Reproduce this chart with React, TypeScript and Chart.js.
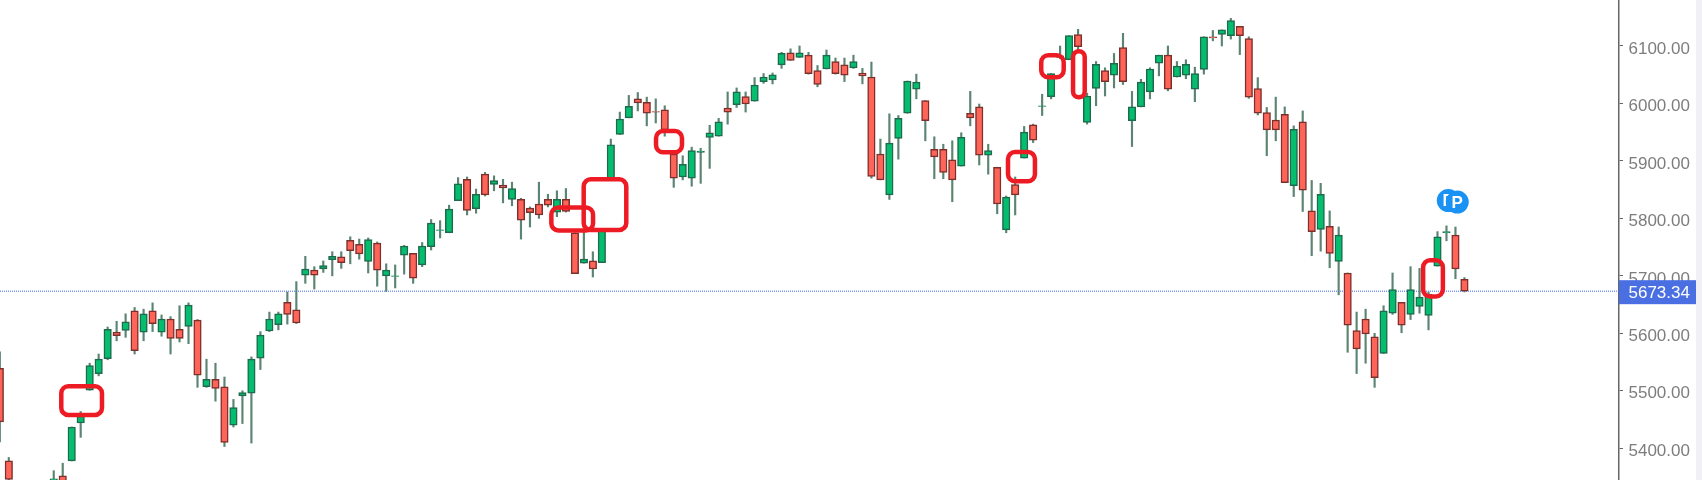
import React, { useEffect, useRef } from "react";
import { Chart, registerables } from "chart.js";

Chart.register(...registerables);

const opens = [
  5539, 5378, null, null, null, null, 5345, 5352, 5378, 5444,
  5501, 5530, 5556, 5602, 5605, 5639, 5602, 5639, 5602, 5625,
  5607, 5612, 5623, 5507, 5520, 5507, 5440, 5491, 5496, 5557,
  5604, 5615, 5654, 5641, 5701, 5710, 5712, 5728, 5733, 5762,
  5755, 5725, 5757, 5700, 5699, 5736, 5739, 5719, 5751, 5779,
  5775, 5831, 5868, 5817, 5877, 5859, 5858, 5833, 5833, 5818,
  5825, 5833, 5811, 5833, 5775, 5722, 5726, 5723, 5870, 5946,
  5975, 6008, 6002, 5986, 5989, 5912, 5872, 5870, 5915, 5941,
  5943, 5992, 5998, 6012, 6004, 6038, 6041, 6067, 6088, 6080,
  6084, 6057, 6060, 6073, 6067, 6062, 6053, 6046, 5912, 5841,
  5939, 5983, 6025, 6005, 5920, 5920, 5902, 5891, 5983, 5994,
  5910, 5889, 5780, 5859, 5905, 5963, 5995, 6012, 6080, 6076,
  6120, 5967, 6026, 6057, 6049, 6097, 5970, 5994, 6020, 6070,
  6084, 6046, 6049, 6025, 6059, 6116, 6120, 6118, 6134, 6113,
  6026, 5984, 5971, 5981, 5857, 5968, 5813, 5781, 5786, 5725,
  5705, 5605, 5625, 5594, 5565, 5635, 5654, 5633, 5647, 5631,
  5717, 5775, 5771, 5694,
];
const highs = [
  5568, 5384, null, null, null, null, 5361, 5374, 5437, 5464,
  5548, 5564, 5611, 5621, 5634, 5645, 5642, 5653, 5632, 5629,
  5648, 5653, 5624, 5555, 5548, 5524, 5485, 5500, 5559, 5603,
  5637, 5637, 5672, 5690, 5734, 5716, 5726, 5742, 5742, 5768,
  5764, 5766, 5759, 5721, 5719, 5753, 5739, 5758, 5798, 5796,
  5823, 5871, 5872, 5851, 5880, 5874, 5868, 5863, 5835, 5820,
  5863, 5842, 5848, 5852, 5775, 5776, 5742, 5780, 5938, 5985,
  6014, 6019, 6011, 6008, 5996, 5912, 5909, 5924, 5922, 5962,
  5974, 6020, 6027, 6020, 6045, 6052, 6053, 6089, 6095, 6100,
  6089, 6066, 6093, 6079, 6079, 6084, 6061, 6072, 5938, 5982,
  5979, 6039, 6051, 6005, 5942, 5929, 5935, 5949, 6021, 5999,
  5929, 5889, 5839, 5872, 5960, 5964, 6016, 6052, 6100, 6118,
  6129, 6018, 6073, 6062, 6087, 6122, 6021, 6042, 6062, 6084,
  6100, 6073, 6076, 6063, 6116, 6127, 6128, 6148, 6134, 6116,
  6045, 5993, 6011, 5994, 5961, 5987, 5866, 5861, 5813, 5785,
  5705, 5637, 5642, 5600, 5648, 5705, 5654, 5716, 5713, 5672,
  5777, 5787, 5785, 5697,
];
const lows = [
  5411, 5345, null, null, null, null, 5340, 5335, 5378, 5419,
  5501, 5526, 5554, 5587, 5593, 5564, 5587, 5603, 5595, 5564,
  5585, 5582, 5506, 5506, 5482, 5403, 5437, 5443, 5409, 5537,
  5603, 5606, 5616, 5617, 5687, 5677, 5706, 5700, 5713, 5721,
  5729, 5705, 5682, 5673, 5679, 5703, 5687, 5716, 5745, 5766,
  5775, 5831, 5806, 5809, 5839, 5848, 5827, 5822, 5764, 5785,
  5800, 5820, 5803, 5811, 5704, 5722, 5698, 5723, 5870, 5946,
  5975, 5987, 5961, 5966, 5943, 5854, 5867, 5856, 5861, 5887,
  5943, 5964, 5993, 5985, 6004, 6035, 6034, 6061, 6075, 6080,
  6051, 6029, 6060, 6051, 6038, 6061, 6034, 5870, 5867, 5833,
  5903, 5983, 6008, 5935, 5869, 5869, 5829, 5891, 5961, 5893,
  5877, 5808, 5775, 5806, 5905, 5932, 5979, 6008, 6078, 6076,
  6093, 5964, 5996, 6013, 6027, 6033, 5925, 5994, 6008, 6048,
  6022, 6046, 6043, 6003, 6051, 6109, 6100, 6112, 6085, 6009,
  5980, 5909, 5935, 5862, 5838, 5812, 5735, 5743, 5714, 5667,
  5567, 5530, 5548, 5506, 5565, 5633, 5601, 5624, 5635, 5606,
  5717, 5761, 5695, 5672,
];
const closes = [
  5446, 5346, null, null, null, null, 5347, 5340, 5437, 5456,
  5544, 5555, 5607, 5596, 5620, 5570, 5634, 5617, 5625, 5591,
  5591, 5649, 5527, 5520, 5504, 5410, 5471, 5497, 5555, 5597,
  5625, 5634, 5633, 5618, 5712, 5701, 5718, 5734, 5723, 5744,
  5738, 5763, 5710, 5710, 5700, 5752, 5696, 5752, 5792, 5780,
  5816, 5860, 5814, 5842, 5841, 5866, 5853, 5852, 5797, 5810,
  5806, 5823, 5833, 5812, 5704, 5729, 5712, 5780, 5928, 5973,
  5995, 6001, 5983, 5985, 5954, 5870, 5894, 5918, 5917, 5949,
  5968, 5985, 6020, 5999, 6032, 6046, 6050, 6087, 6075, 6088,
  6052, 6033, 6084, 6052, 6049, 6073, 6048, 5873, 5867, 5931,
  5974, 6039, 6037, 5970, 5907, 5880, 5867, 5941, 5975, 5910,
  5918, 5825, 5837, 5841, 5950, 5936, 5996, 6052, 6083, 6118,
  6099, 6013, 6068, 6038, 6070, 6038, 5994, 6037, 6060, 6084,
  6025, 6065, 6068, 6052, 6116, 6114, 6128, 6144, 6118, 6011,
  5983, 5954, 5954, 5862, 5955, 5849, 5777, 5842, 5739, 5771,
  5614, 5573, 5599, 5523, 5639, 5676, 5614, 5676, 5663, 5668,
  5768, 5777, 5712, 5673.34,
];

const priceTicks = [6100, 6000, 5900, 5800, 5700, 5600, 5500, 5400];
const lastPrice = 5673.34;

// Hand-drawn gap highlights, in candle index and price units: [x0, x1, priceTop, priceBottom]
const gapBoxes = [
  [6.84, 11.37, 5508, 5458],
  [61.38, 66.02, 5819, 5779],
  [64.98, 69.72, 5868, 5780],
  [73.03, 75.92, 5952, 5915],
  [112.2, 115.2, 5915.5, 5864.5],
  [115.9, 118.4, 6084, 6045.5],
  [119.44, 120.74, 6091, 6010.7],
  [158.4, 160.6, 5727, 5664],
];

// "P" event badges, in candle index and price units
const badgeIndex = [161.2, 162.2];
const badgePrice = [5831, 5828.5];
const badgeLabels = ["P", "P"];

const FONT = "'Liberation Sans', Arial, sans-serif";
const X_MIN = 0.02;
const X_MAX = 180.2;
const Y_MIN = 5344.8;
const Y_MAX = 6180;

const GREEN = "#05bd6e";
const GREEN_EDGE = "#1e6a4c";
const RED = "#ff6459";
const RED_EDGE = "#7d302b";
const WICK = "#5b8572";

const overlay = {
  id: "overlay",
  beforeDraw(chart: any) {
    const { ctx, width, height } = chart;
    ctx.save();
    ctx.fillStyle = "#ffffff";
    ctx.fillRect(0, 0, width, height);
    ctx.fillStyle = "#f0f0f6";
    ctx.fillRect(chart.chartArea.right + 77, 0, width, height);
    ctx.restore();
  },
  afterDatasetsDraw(chart: any) {
    const { ctx, scales, chartArea } = chart;
    const { x, y } = scales;
    ctx.save();

    ctx.font = `bold 17px ${FONT}`;
    ctx.textAlign = "center";
    ctx.textBaseline = "middle";
    ctx.fillStyle = "#ffffff";
    const pa = x.getPixelForValue(badgeIndex[0]);
    const pb = x.getPixelForValue(badgeIndex[1]);
    const ya = y.getPixelForValue(badgePrice[0]);
    const yb = y.getPixelForValue(badgePrice[1]);
    ctx.fillText(badgeLabels[0], pa, ya + 1);
    ctx.fillStyle = "#1a92f4";
    ctx.beginPath();
    ctx.arc(pb, yb, 11.5, 0, Math.PI * 2);
    ctx.fill();
    ctx.fillStyle = "#ffffff";
    ctx.fillText(badgeLabels[1], pb, yb + 1);

    ctx.strokeStyle = "#ed1c24";
    ctx.lineWidth = 4.5;
    for (const [x0, x1, top, bottom] of gapBoxes) {
      const l = x.getPixelForValue(x0);
      const r = x.getPixelForValue(x1);
      const t = y.getPixelForValue(top);
      const b = y.getPixelForValue(bottom);
      ctx.beginPath();
      ctx.roundRect(l, t, r - l, b - t, 7);
      ctx.stroke();
    }

    const py = y.getPixelForValue(lastPrice);
    ctx.fillStyle = "#4a6fe3";
    ctx.fillRect(chartArea.right, py - 11, 77, 24);
    ctx.fillStyle = "#ffffff";
    ctx.font = `17px ${FONT}`;
    ctx.textAlign = "left";
    ctx.textBaseline = "middle";
    ctx.fillText(lastPrice.toFixed(2), chartArea.right + 9.5, py + 2);
    ctx.restore();
  },
};

export default function App() {
  const ref = useRef<HTMLCanvasElement>(null);

  useEffect(() => {
    const indices = opens.map((_, i) => i).filter((i) => opens[i] !== null);
    const isUp = (i: number) => (closes[i] as number) >= (opens[i] as number);
    const chart = new Chart(ref.current as HTMLCanvasElement, {
      type: "bar",
      data: {
        datasets: [
          {
            type: "line",
            data: [
              { x: X_MIN, y: lastPrice },
              { x: X_MAX, y: lastPrice },
            ],
            borderColor: "#3f66ee",
            borderWidth: 1,
            borderDash: [1, 1],
            pointRadius: 0,
            order: 3,
          },
          {
            type: "line",
            data: [{ x: badgeIndex[0], y: badgePrice[0] }],
            showLine: false,
            pointRadius: 11.5,
            pointBackgroundColor: "#1a92f4",
            pointBorderWidth: 0,
            order: 0,
          },
          {
            data: indices.map((i) => ({ x: i, y: [lows[i], highs[i]] })),
            backgroundColor: WICK,
            borderWidth: 0,
            barThickness: 1.5,
            order: 2,
          },
          {
            data: indices.map((i) => ({
              x: i,
              y: [opens[i], closes[i]],
            })),
            backgroundColor: indices.map((i) => (isUp(i) ? GREEN : RED)),
            borderColor: indices.map((i) => (isUp(i) ? GREEN_EDGE : RED_EDGE)),
            borderWidth: 1.5,
            borderSkipped: false,
            barThickness: 7.5,
            order: 1,
          },
        ],
      } as any,
      plugins: [overlay],
      options: {
        responsive: false,
        animation: false,
        layout: { padding: 0, autoPadding: false },
        datasets: { bar: { grouped: false } },
        plugins: { legend: { display: false }, tooltip: { enabled: false } },
        scales: {
          x: {
            type: "linear",
            display: false,
            offset: false,
            min: X_MIN,
            max: X_MAX,
            grid: { display: false },
          },
          y: {
            type: "linear",
            position: "right",
            min: Y_MIN,
            max: Y_MAX,
            afterFit(scale: any) {
              scale.width = 83;
              scale.paddingTop = 0;
              scale.paddingBottom = 0;
            },
            afterBuildTicks(scale: any) {
              scale.ticks = priceTicks.map((value) => ({ value }));
            },
            border: { color: "#666666", width: 1.5 },
            grid: {
              drawOnChartArea: false,
              drawTicks: true,
              tickLength: 4,
              tickWidth: 1,
              color: "#666666",
            },
            ticks: {
              color: "#7d7d7d",
              padding: 5.5,
              labelOffset: 3,
              font: { family: FONT, size: 17 },
              callback: (v: any) => Number(v).toFixed(2),
            },
          },
        },
      } as any,
    });
    return () => chart.destroy();
  }, []);

  return (
    <div style={{ position: "fixed", left: 0, top: 0, width: 1702, height: 480 }}>
      <canvas ref={ref} width={1702} height={480} style={{ display: "block", filter: "blur(0.45px)" }} />
    </div>
  );
}
